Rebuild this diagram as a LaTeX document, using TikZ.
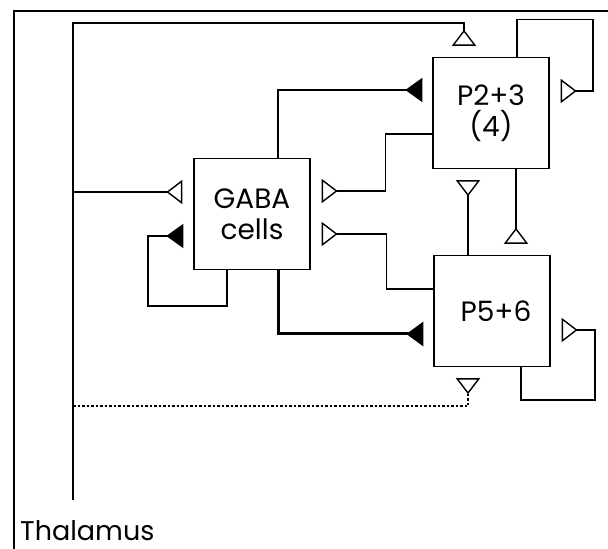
\documentclass[tikz,border=0pt]{standalone}
\usepackage{fontspec}
\setmainfont{Poppins}
\usetikzlibrary{arrows.meta,calc,positioning}

\tikzset{
  cellbox/.style={draw,line width=1.4pt,minimum width=116pt,minimum height=111pt,
                  align=center,font=\fontsize{28}{31}\selectfont},
  link/.style={line width=1.4pt},
  exc/.style={link,-{Triangle[open,reversed,length=16pt,width=24pt]},shorten >=11pt},
  inh/.style={link,-{Triangle[reversed,length=17pt,width=24pt]},shorten >=10pt},
}

\begin{document}
\begin{tikzpicture}[x=1pt,y=1pt]
\useasboundingbox (0,0) rectangle (608,549);
\draw[line width=1.3pt] (14,0) -- (14,538) -- (608,538);
% cell groups
\node[cellbox] (ptwo) at (491,436) {P2+3\\(4)};
\node[cellbox] (gaba) at (252,335) {GABA\\cells};
\node[cellbox] (pfive) at (492,238) {\hspace*{8pt}P5+6};
% thalamus
\coordinate (thtop) at (73,526);
\coordinate (thbot) at (73,49);
\node[anchor=base west,inner sep=0pt,font=\fontsize{27}{30}\selectfont] (thal) at (20,9) {Thalamus};
\draw[exc] (thbot) -- (thtop) -| ([xshift=-27]ptwo.north);
\coordinate (gin) at ([yshift=22]gaba.west);
\draw[exc] (gin -| thbot) -- (gin);
\coordinate (dend) at ([xshift=-24,yshift=-39]pfive.south);
\draw[exc,dash pattern=on 2.5pt off 2pt] (dend -| thbot) -| ([xshift=-24]pfive.south);
% GABA outputs
\draw[inh] ([xshift=26]gaba.north) |- ([yshift=23]ptwo.west);
\draw[inh] ([xshift=-25]gaba.south) -- ++(0,-36) -- ++(-79,0) |- ([yshift=-22]gaba.west);
\draw[inh,line width=3pt] ([xshift=26]gaba.south) |- ([yshift=-23]pfive.west);
% pyramidal outputs
\draw[exc] ([yshift=-21]ptwo.west) -- ++(-47,0) |- ([yshift=23]gaba.east);
\draw[exc] ([yshift=22]pfive.west) -- ++(-47,0) |- ([yshift=-20]gaba.east);
\draw[exc] ([xshift=-24]pfive.north) -- ([xshift=-23]ptwo.south);
\draw[exc] ([xshift=25]ptwo.south) -- ([xshift=24]pfive.north);
\draw[exc] ([xshift=26]ptwo.north) -- ++(0,37) -- ++(76,0) |- ([yshift=22]ptwo.east);
\draw[exc] ([xshift=29]pfive.south) -- ++(0,-33) -- ++(74,0) |- ([yshift=-19]pfive.east);
\end{tikzpicture}
\end{document}
